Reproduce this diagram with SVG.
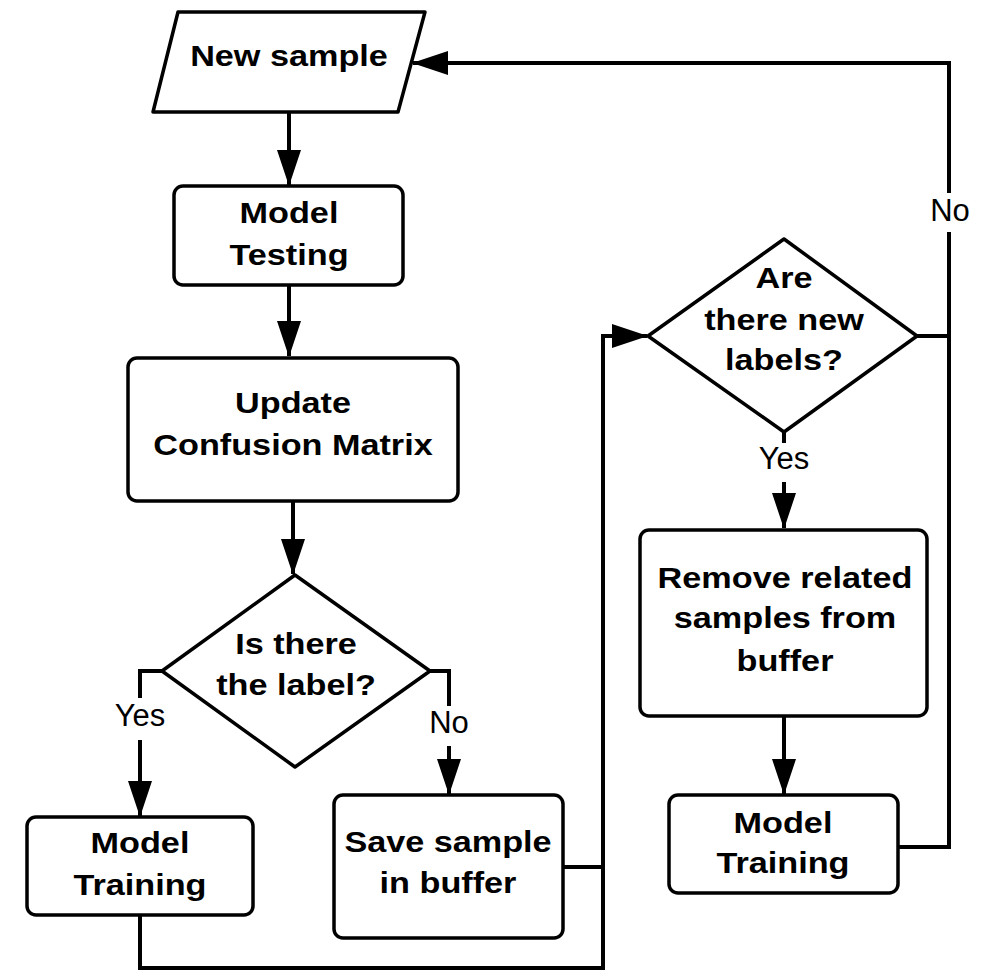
<svg xmlns="http://www.w3.org/2000/svg" width="981" height="970" viewBox="0 0 981 970">
  <style>
    .shape { fill: #ffffff; stroke: #000000; stroke-width: 3.5; stroke-linejoin: round; }
    .wire { fill: none; stroke: #000000; stroke-width: 4; stroke-linejoin: miter; }
    .arrow { marker-end: url(#head); }
    .t { font-family: "Liberation Sans", Arial, sans-serif; font-weight: bold; font-size: 29px; fill: #000000; text-anchor: middle; }
    .lbl { font-family: "Liberation Sans", Arial, sans-serif; font-size: 31px; fill: #000000; text-anchor: middle; }
    .gap { fill: #ffffff; stroke: none; }
  </style>
  <defs>
    <marker id="head" markerUnits="userSpaceOnUse" markerWidth="36" markerHeight="24" refX="35" refY="12" orient="auto">
      <path d="M0,0 L36,12 L0,24 Z" fill="#000000"/>
    </marker>
  </defs>

  <rect width="981" height="970" fill="#ffffff"/>

  <!-- connectors -->
  <g id="connectors">
    <path class="wire arrow" d="M289,112 V185"/>
    <path class="wire arrow" d="M289,285 V356"/>
    <path class="wire arrow" d="M293,501 V574"/>
    <path class="wire arrow" d="M162,671 H140 V816"/>
    <path class="wire arrow" d="M430,671 H449 V794"/>
    <path class="wire" d="M563,867 H603"/>
    <path class="wire arrow" d="M140,915 V968 H603 V336 H647"/>
    <path class="wire arrow" d="M784,432 V528"/>
    <path class="wire arrow" d="M784,716 V794"/>
    <path class="wire" d="M917,336 H949"/>
    <path class="wire arrow" d="M898,847 H949 V63 H413"/>

    <!-- branch labels -->
    <rect class="gap" x="110" y="698" width="60" height="42"/>
    <text class="lbl" x="140" y="726">Yes</text>
    <rect class="gap" x="425" y="706" width="48" height="40"/>
    <text class="lbl" x="449" y="733">No</text>
    <rect class="gap" x="752" y="443" width="64" height="39"/>
    <text class="lbl" x="784" y="469">Yes</text>
    <rect class="gap" x="925" y="193" width="50" height="39"/>
    <text class="lbl" x="950" y="221">No</text>
  </g>

  <!-- input -->
  <g id="new-sample">
    <polygon class="shape" points="178,12 425,12 398,112 153,112"/>
    <text class="t" transform="translate(289,66) scale(1.18,1)">New sample</text>
  </g>

  <g id="model-testing">
    <rect class="shape" x="174" y="186" width="229" height="99" rx="9"/>
    <text class="t" transform="translate(289,223) scale(1.18,1)">Model</text>
    <text class="t" transform="translate(289,265) scale(1.18,1)">Testing</text>
  </g>

  <g id="update-matrix">
    <rect class="shape" x="128" y="358" width="330" height="143" rx="9"/>
    <text class="t" transform="translate(293,413) scale(1.18,1)">Update</text>
    <text class="t" transform="translate(293,455) scale(1.18,1)">Confusion Matrix</text>
  </g>

  <g id="label-check">
    <polygon class="shape" points="295,575 430,671 295,767 162,671"/>
    <text class="t" transform="translate(296,654) scale(1.18,1)">Is there</text>
    <text class="t" transform="translate(296,695) scale(1.18,1)">the label?</text>
  </g>

  <g id="model-training-left">
    <rect class="shape" x="27" y="817" width="226" height="98" rx="9"/>
    <text class="t" transform="translate(140,853) scale(1.18,1)">Model</text>
    <text class="t" transform="translate(140,895) scale(1.18,1)">Training</text>
  </g>

  <g id="save-sample">
    <rect class="shape" x="334" y="795" width="229" height="143" rx="9"/>
    <text class="t" transform="translate(448,852) scale(1.18,1)">Save sample</text>
    <text class="t" transform="translate(448,893) scale(1.18,1)">in buffer</text>
  </g>

  <g id="new-labels-check">
    <polygon class="shape" points="784,239 917,336 784,432 648,336"/>
    <text class="t" transform="translate(784,288) scale(1.18,1)">Are</text>
    <text class="t" transform="translate(784,330) scale(1.18,1)">there new</text>
    <text class="t" transform="translate(784,370) scale(1.18,1)">labels?</text>
  </g>

  <g id="remove-samples">
    <rect class="shape" x="640" y="530" width="287" height="186" rx="9"/>
    <text class="t" transform="translate(785,588) scale(1.18,1)">Remove related</text>
    <text class="t" transform="translate(785,628) scale(1.18,1)">samples from</text>
    <text class="t" transform="translate(785,671) scale(1.18,1)">buffer</text>
  </g>

  <g id="model-training-right">
    <rect class="shape" x="669" y="795" width="229" height="98" rx="9"/>
    <text class="t" transform="translate(783,833) scale(1.18,1)">Model</text>
    <text class="t" transform="translate(783,873) scale(1.18,1)">Training</text>
  </g>
</svg>
